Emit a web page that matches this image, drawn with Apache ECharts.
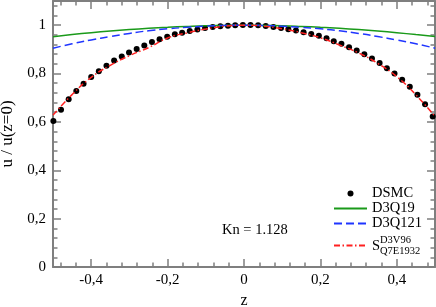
<!DOCTYPE html>
<html><head><meta charset="utf-8">
<script src="https://cdn.jsdelivr.net/npm/echarts@6/dist/echarts.min.js"></script>
<style>html,body{margin:0;padding:0;background:#fff}#c{width:436px;height:307px}</style>
</head><body><div id="c"></div>
<script>
// DSMC samples
const dsmcZ = [-0.499,-0.479,-0.459,-0.439,-0.420,-0.400,-0.380,-0.360,-0.340,-0.320,-0.301,-0.281,-0.261,-0.241,-0.221,-0.201,-0.181,-0.162,-0.142,-0.122,-0.102,-0.082,-0.062,-0.042,-0.023,-0.003,0.017,0.037,0.057,0.077,0.097,0.116,0.136,0.156,0.176,0.196,0.216,0.235,0.255,0.275,0.295,0.315,0.335,0.355,0.374,0.394,0.414,0.434,0.454,0.474,0.494];
const dsmcU = [0.604,0.650,0.694,0.728,0.758,0.786,0.810,0.832,0.854,0.870,0.887,0.902,0.916,0.930,0.942,0.952,0.963,0.969,0.976,0.982,0.988,0.992,0.996,0.998,1.000,1.001,1.001,1.000,0.997,0.992,0.988,0.983,0.978,0.971,0.964,0.956,0.946,0.934,0.923,0.909,0.895,0.880,0.862,0.844,0.822,0.800,0.774,0.745,0.712,0.673,0.622];
// model curves
const modelZ = [-0.5,-0.45,-0.4,-0.35,-0.3,-0.25,-0.2,-0.15,-0.1,-0.05,0,0.05,0.1,0.15,0.2,0.25,0.3,0.35,0.4,0.45,0.5];
const d3q19U = [0.952,0.961,0.969,0.976,0.982,0.987,0.991,0.995,0.998,0.999,1.0,0.999,0.998,0.995,0.991,0.987,0.982,0.976,0.969,0.961,0.953];
const d3q121U = [0.905,0.923,0.939,0.953,0.966,0.977,0.985,0.991,0.996,0.999,1.0,0.999,0.996,0.991,0.985,0.977,0.966,0.953,0.939,0.923,0.905];
const sU = [0.628,0.713,0.784,0.834,0.874,0.907,0.947,0.968,0.984,0.996,1.0,0.996,0.985,0.969,0.948,0.918,0.885,0.842,0.787,0.712,0.622];
// ticks
const xMajor = [-0.4,-0.2,0,0.2,0.4];
const xMinor = [-0.48,-0.44,-0.36,-0.32,-0.28,-0.24,-0.16,-0.12,-0.08,-0.04,0.04,0.08,0.12,0.16,0.24,0.28,0.32,0.36,0.44,0.48];
const yMajor = [0,0.2,0.4,0.6,0.8,1];
const yMinor = [0.04,0.08,0.12,0.16,0.24,0.28,0.32,0.36,0.44,0.48,0.52,0.56,0.64,0.68,0.72,0.76,0.84,0.88,0.92,0.96,1.04,1.08];

const FONT = '"Liberation Serif","Times New Roman",serif';
const AX = '#7f7f7f';
const fmt = v => String(Math.round(v*10)/10).replace('.', ',');
const pairs = (xs, ys) => xs.map((x, i) => [x, ys[i]]);

function xAx(pos, major, label) {
  const o = {type:'value', min:-0.5, max:0.5, position:pos, splitLine:{show:false},
    axisLine:{show:major, onZero:false, lineStyle:{color:AX, width:2}},
    axisTick:{inside:true, length: major?8:4.5, customValues: major?xMajor:xMinor, lineStyle:{color:AX, width:1.5}},
    axisLabel:{show:false}};
  if (label) {
    o.axisLabel = {show:true, customValues:xMajor, formatter:fmt, color:'#000', fontFamily:FONT, fontSize:15, margin:6};
    o.name = 'z'; o.nameLocation = 'middle'; o.nameGap = 20;
    o.nameTextStyle = {color:'#000', fontFamily:FONT, fontSize:16};
  }
  return o;
}
function yAx(pos, major, label) {
  const o = {type:'value', min:0, max:1.1, position:pos, splitLine:{show:false},
    axisLine:{show:major, onZero:false, lineStyle:{color:AX, width:2}},
    axisTick:{inside:true, length: major?8:4.5, customValues: major?yMajor:yMinor, lineStyle:{color:AX, width:1.5}},
    axisLabel:{show:false}};
  if (label) {
    o.axisLabel = {show:true, customValues:yMajor, formatter:fmt, color:'#000', fontFamily:FONT, fontSize:15, margin:7};
    o.name = 'u / u(z=0)'; o.nameLocation = 'middle'; o.nameGap = 32;
    o.nameTextStyle = {color:'#000', fontFamily:FONT, fontSize:17};
  }
  return o;
}

const chart = echarts.init(document.getElementById('c'), null, {renderer:'canvas'});
chart.setOption({
  animation:false,
  backgroundColor:'#fff',
  grid:{left:53, right:1, top:1, bottom:40, containLabel:false, outerBoundsMode:'none'},
  xAxis:[xAx('bottom', true, true), xAx('bottom', false, false), xAx('top', true, false), xAx('top', false, false)],
  yAxis:[yAx('left', true, true), yAx('left', false, false), yAx('right', true, false), yAx('right', false, false)],
  legend:[{
    orient:'vertical', left:333, top:186, padding:0, itemGap:0, itemWidth:33, itemHeight:6,
    textStyle:{fontFamily:FONT, fontSize:14.5, lineHeight:15, color:'#000'},
    data:[{name:'DSMC', icon:'circle'},
          {name:'D3Q19', itemStyle:{opacity:0}},
          {name:'D3Q121', itemStyle:{opacity:0}}]
  },{
    orient:'vertical', left:333, top:235, padding:0, itemGap:0, itemWidth:33, itemHeight:6,
    textStyle:{fontFamily:FONT, fontSize:14.5, color:'#000',
      rich:{
        padA:{width:8, lineHeight:4, fontSize:10},
        padB:{width:8, lineHeight:2, fontSize:10},
        sup:{fontFamily:FONT, fontSize:10.5, lineHeight:4, color:'#000'},
        s:{fontFamily:FONT, fontSize:14.5, lineHeight:8, color:'#000'},
        sub:{fontFamily:FONT, fontSize:10.5, lineHeight:2, color:'#000'}
      }},
    formatter:() => '{padA| }{sup|D3V96}\n{s|S}\n{padB| }{sub|Q7E1932}',
    data:[{name:'S_Q7E1932^D3V96', itemStyle:{opacity:0}}]
  }],
  graphic:[{type:'text', left:222, top:223,
    style:{text:'Kn = 1.128', font:'14.5px ' + FONT, fill:'#000'}}],
  series:[
    {name:'DSMC', type:'scatter', data:pairs(dsmcZ, dsmcU), symbol:'circle', symbolSize:6,
      itemStyle:{color:'#000', opacity:1}, z:2},
    {name:'D3Q19', type:'line', data:pairs(modelZ, d3q19U), smooth:true, symbol:'none',
      lineStyle:{color:'#1a9a1a', width:1.5}, itemStyle:{color:'#1a9a1a'}, z:3},
    {name:'D3Q121', type:'line', data:pairs(modelZ, d3q121U), smooth:true, symbol:'none',
      lineStyle:{color:'#1f35ff', width:1.5, type:[8,4]}, itemStyle:{color:'#1f35ff'}, z:3},
    {name:'S_Q7E1932^D3V96', type:'line', data:pairs(modelZ, sU), smooth:true, symbol:'none',
      lineStyle:{color:'#ff2020', width:1.5, type:[6,2.5,1.5,2.5]}, itemStyle:{color:'#ff2020'}, z:3}
  ]
});
</script></body></html>
